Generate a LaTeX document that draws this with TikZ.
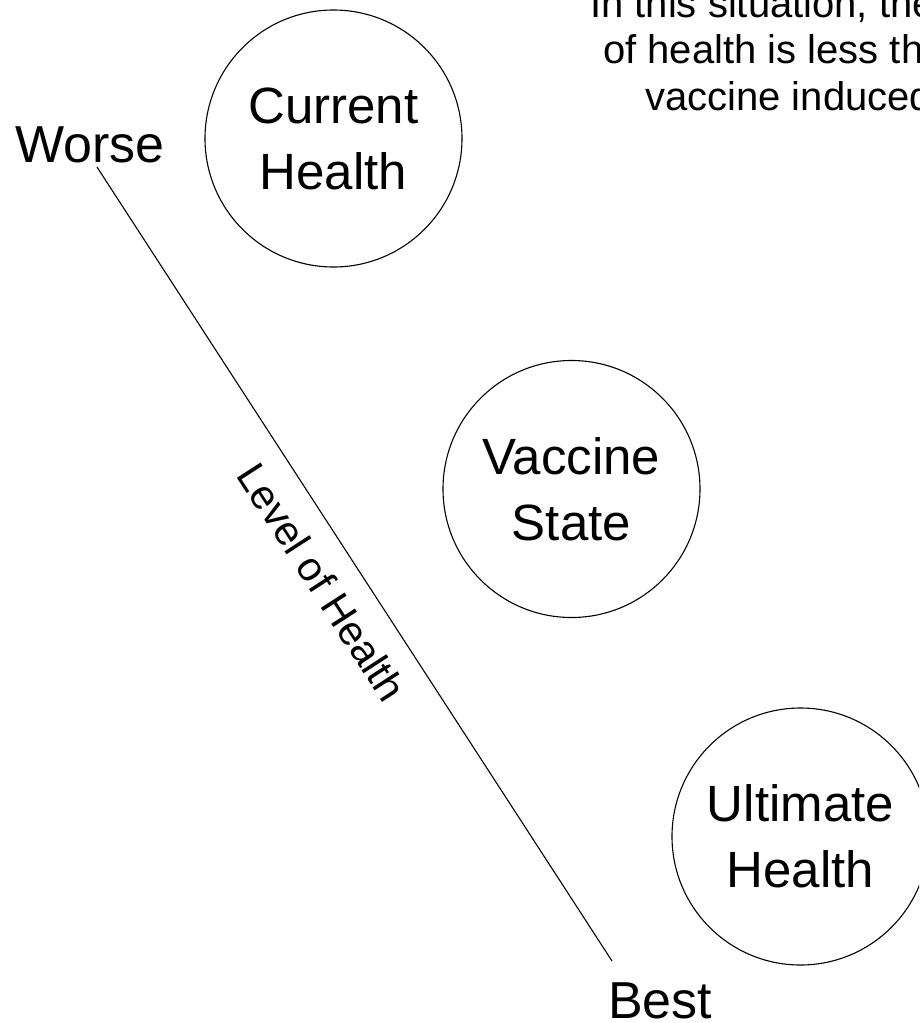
\documentclass[tikz,border=0pt]{standalone}
\usepackage{fontspec}
\setmainfont{Liberation Sans}
\begin{document}
\begin{tikzpicture}[x=1pt,y=-1pt,
  state/.style={circle, draw, line width=1.1pt, minimum size=257pt, inner sep=0pt,
    align=center, font=\fontsize{51}{66}\selectfont},
  big/.style={font=\fontsize{52}{60}\selectfont, inner sep=0pt},
  note/.style={font=\fontsize{40}{46}\selectfont, inner sep=0pt, anchor=base west}]
\useasboundingbox (0,0) rectangle (919,1023);
\clip (0,0) rectangle (919,1023);
\node[state] (cur) at (333.5,138.5) {Current\\Health};
\node[state] (vac) at (571.5,489) {Vaccine\\State};
\node[state] (ult) at (800.5,836.5) {Ultimate\\Health};
\node[big, anchor=base west] (worse) at (15,162) {Worse};
\node[big, anchor=base west] (best) at (608,1018) {Best};
\coordinate (ws) at (97,167);
\coordinate (be) at (612,961);
\draw[line width=1.1pt] (ws) -- (be);
\node[font=\fontsize{41}{46}\selectfont, inner sep=0pt, rotate=-57.06] (lvl) at (322,582) {Level of Health};
\node[note] (n1) at (590,17) {In this situation, the};
\node[note] (n2) at (603,63) {of health is less than};
\node[note] (n3) at (645,110) {vaccine induced};
\end{tikzpicture}
\end{document}
